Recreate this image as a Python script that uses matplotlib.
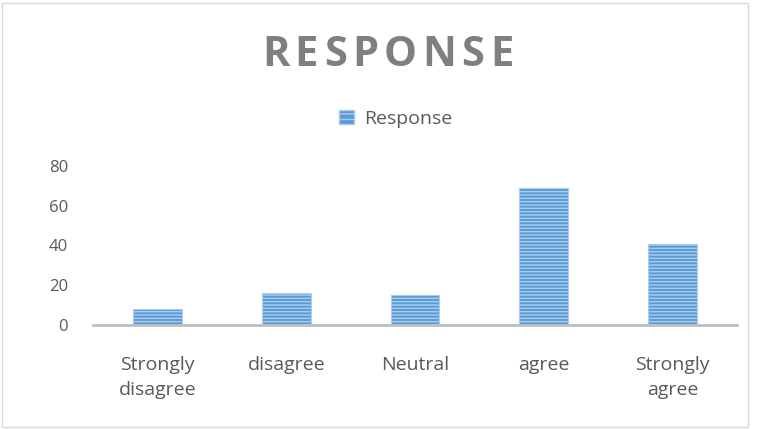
import matplotlib.pyplot as plt
import matplotlib.patches as mpatches
import numpy as np

plt.rcParams['font.family'] = ['Open Sans', 'DejaVu Sans']
plt.rcParams['hatch.linewidth'] = 1.0

# Datos de la encuesta
categorias = ['Strongly\ndisagree', 'disagree', 'Neutral', 'agree', 'Strongly\nagree']
respuestas = [8, 16, 15, 69, 41]
y_ticks = [0, 20, 40, 60, 80]

AZUL = '#5b9bd5'
GRIS_TXT = '#595959'

fig = plt.figure(figsize=(7.58, 4.29), dpi=100)
ax = fig.add_axes([0.1227, 0.2424, 0.8496, 0.3707])

x = np.arange(len(categorias))
ax.bar(x, respuestas, width=0.38, color=AZUL, edgecolor='#a9cdee',
       hatch='-----', linewidth=0.8)

ax.set_xlim(-0.5, len(categorias) - 0.5)
ax.set_ylim(0, 80)
ax.set_yticks(y_ticks)
ax.set_xticks(x)
ax.set_xticklabels(categorias, fontsize=14, color=GRIS_TXT, linespacing=1.5)
ax.tick_params(axis='y', length=0, pad=18, labelsize=12, labelcolor=GRIS_TXT)
ax.tick_params(axis='x', length=0, pad=22)

for s in ['top', 'right', 'left']:
    ax.spines[s].set_visible(False)
ax.spines['bottom'].set_color('#bfbfbf')
ax.spines['bottom'].set_linewidth(2)

# Titulo con espaciado entre letras
titulo = 'RESPONSE'
fig.canvas.draw()
renderer = fig.canvas.get_renderer()
tracking = 5.5
textos = []
anchos = []
for letra in titulo:
    t = fig.text(0, 0, letra, fontsize=30, fontweight='bold', color='#7f7f7f')
    anchos.append(t.get_window_extent(renderer).width)
    textos.append(t)
total = sum(anchos) + tracking * (len(titulo) - 1)
x0 = 387.5 - total / 2
for t, w in zip(textos, anchos):
    t.set_position((x0 / 758, 1 - 66 / 429))
    x0 += w + tracking

# Leyenda
patch = mpatches.Patch(facecolor=AZUL, edgecolor='#a9cdee', hatch='---',
                       label='Response')
fig.legend(handles=[patch], loc='center', bbox_to_anchor=(0.522, 0.7226),
           frameon=False, fontsize=14, handlelength=0.75, handleheight=0.75,
           handletextpad=0.5, labelcolor=GRIS_TXT)

# Borde del grafico
borde = mpatches.Rectangle((0.002, 0.004), 0.985, 0.99, transform=fig.transFigure,
                           fill=False, edgecolor='#d9d9d9', linewidth=1)
fig.add_artist(borde)

fig.savefig('out.png', dpi=100)
